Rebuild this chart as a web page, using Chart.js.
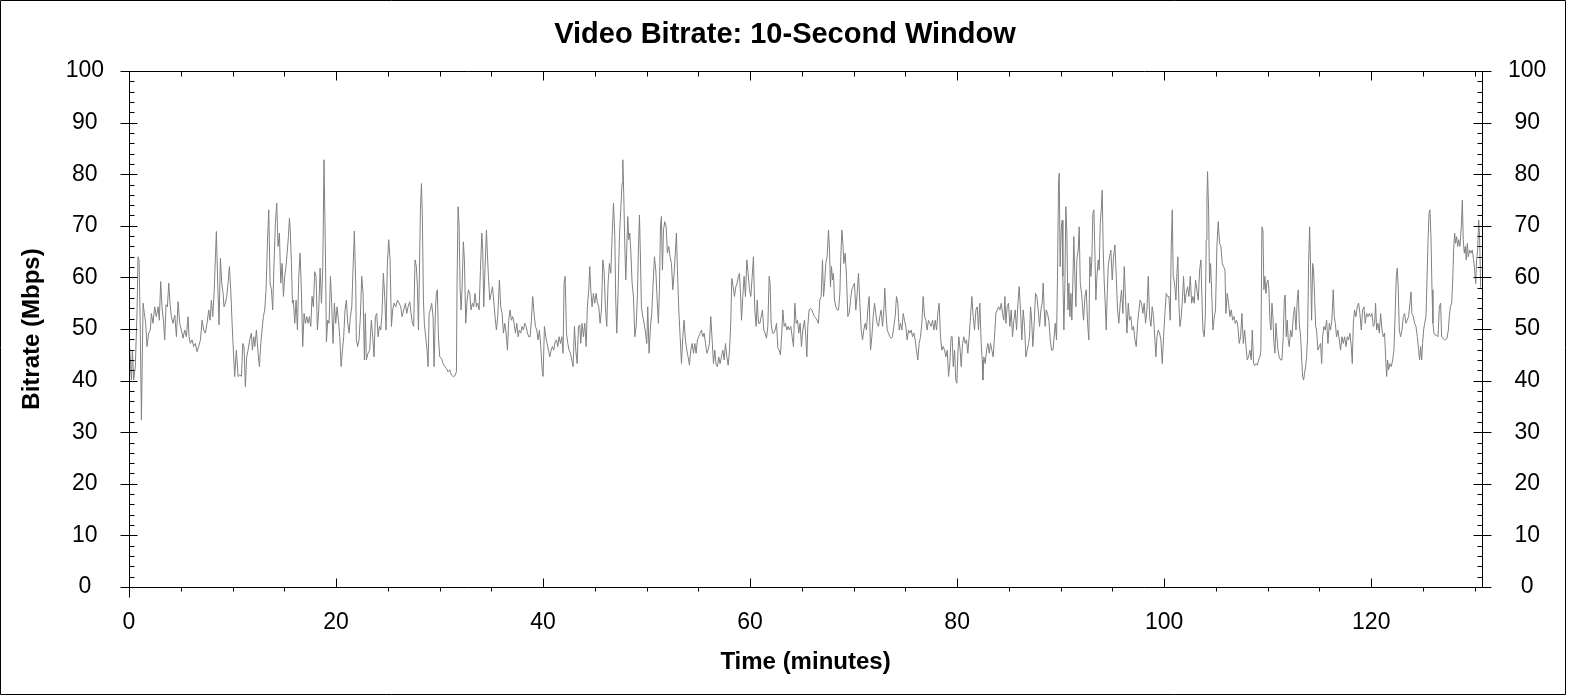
<!DOCTYPE html>
<html>
<head>
<meta charset="utf-8">
<title>Video Bitrate: 10-Second Window</title>
<script src="https://cdn.jsdelivr.net/npm/chart.js@4/dist/chart.umd.min.js"></script>
<style>
  html, body { margin: 0; padding: 0; background: #fff; }
  canvas { display: block; }
</style>
</head>
<body>
<canvas id="bitrate" width="1570" height="695"></canvas>
<script>
// 目盛り
const xTicks = [0, 20, 40, 60, 80, 100, 120];
const yTicks = [0, 10, 20, 30, 40, 50, 60, 70, 80, 90, 100];
const xMax = 130.7;

// 時間（分）
const times = [
  0.02, 0.23, 0.33, 0.45, 0.61, 0.78, 0.87, 0.97, 1.07, 1.20, 1.36, 1.52, 1.61, 1.74, 1.90, 2.06, 2.16, 2.32, 2.48, 2.64,
  2.81, 2.93, 3.06, 3.19, 3.35, 3.45, 3.58, 3.71, 3.84, 3.96, 4.09, 4.25, 4.42, 4.58, 4.74, 4.90, 5.06, 5.22, 5.38, 5.54,
  5.70, 5.80, 5.93, 6.09, 6.25, 6.41, 6.57, 6.73, 6.90, 7.06, 7.22, 7.38, 7.54, 7.70, 7.83, 7.96, 8.09, 8.22, 8.35, 8.44,
  8.57, 8.70, 8.83, 8.96, 9.09, 9.18, 9.31, 9.44, 9.57, 9.70, 9.83, 9.96, 10.08, 10.21, 10.37, 10.54, 10.70, 10.86, 10.99, 11.11,
  11.24, 11.37, 11.50, 11.66, 11.82, 11.92, 12.05, 12.15, 12.31, 12.47, 12.60, 12.73, 12.85, 12.98, 13.11, 13.24, 13.37, 13.50, 13.63, 13.76,
  13.88, 14.01, 14.14, 14.27, 14.40, 14.53, 14.66, 14.79, 14.92, 15.04, 15.17, 15.30, 15.40, 15.50, 15.59, 15.69, 15.79, 15.88, 16.01, 16.14,
  16.27, 16.40, 16.53, 16.65, 16.78, 16.91, 17.04, 17.17, 17.30, 17.43, 17.56, 17.68, 17.81, 17.94, 18.07, 18.20, 18.33, 18.46, 18.59, 18.72,
  18.84, 18.97, 19.07, 19.20, 19.33, 19.46, 19.58, 19.71, 19.84, 19.97, 20.10, 20.23, 20.36, 20.49, 20.62, 20.74, 20.87, 21.00, 21.13, 21.26,
  21.39, 21.52, 21.65, 21.77, 21.90, 21.96, 22.09, 22.22, 22.35, 22.48, 22.61, 22.74, 22.83, 22.93, 23.09, 23.25, 23.41, 23.54, 23.67, 23.80,
  23.93, 24.06, 24.19, 24.32, 24.44, 24.57, 24.70, 24.83, 24.96, 25.09, 25.22, 25.35, 25.47, 25.60, 25.77, 25.93, 26.09, 26.25, 26.38, 26.54,
  26.70, 26.83, 26.96, 27.12, 27.25, 27.38, 27.50, 27.63, 27.76, 27.86, 27.96, 28.05, 28.15, 28.25, 28.34, 28.44, 28.53, 28.66, 28.79, 28.89,
  28.99, 29.11, 29.24, 29.37, 29.47, 29.60, 29.69, 29.79, 29.89, 30.02, 30.18, 30.34, 30.50, 30.66, 30.82, 30.98, 31.14, 31.31, 31.47, 31.63,
  31.69, 31.79, 31.89, 31.98, 32.08, 32.17, 32.30, 32.40, 32.53, 32.66, 32.79, 32.92, 33.04, 33.17, 33.30, 33.43, 33.56, 33.69, 33.82, 33.95,
  34.08, 34.17, 34.27, 34.40, 34.53, 34.62, 34.72, 34.85, 34.98, 35.11, 35.23, 35.36, 35.49, 35.62, 35.78, 35.91, 36.04, 36.17, 36.30, 36.43,
  36.56, 36.68, 36.81, 36.94, 37.07, 37.20, 37.33, 37.46, 37.59, 37.71, 37.84, 37.97, 38.10, 38.23, 38.36, 38.49, 38.62, 38.75, 38.87, 39.00,
  39.13, 39.26, 39.39, 39.52, 39.65, 39.78, 39.91, 40.00, 40.13, 40.26, 40.39, 40.52, 40.65, 40.78, 40.90, 41.03, 41.16, 41.29, 41.42, 41.55,
  41.68, 41.81, 41.93, 42.03, 42.13, 42.26, 42.39, 42.51, 42.64, 42.77, 42.90, 43.03, 43.16, 43.29, 43.42, 43.54, 43.64, 43.77, 43.90, 44.03,
  44.16, 44.28, 44.41, 44.51, 44.61, 44.73, 44.86, 44.99, 45.12, 45.25, 45.38, 45.51, 45.64, 45.77, 45.89, 46.02, 46.15, 46.28, 46.41, 46.54,
  46.67, 46.80, 46.93, 47.02, 47.12, 47.25, 47.38, 47.50, 47.63, 47.70, 47.79, 47.89, 47.99, 48.08, 48.18, 48.28, 48.37, 48.47, 48.60, 48.73,
  48.86, 48.99, 49.12, 49.21, 49.31, 49.41, 49.50, 49.63, 49.76, 49.89, 50.02, 50.11, 50.24, 50.37, 50.50, 50.63, 50.76, 50.89, 51.02, 51.14,
  51.24, 51.34, 51.43, 51.53, 51.63, 51.76, 51.89, 52.01, 52.14, 52.27, 52.40, 52.53, 52.66, 52.79, 52.88, 52.98, 53.11, 53.24, 53.37, 53.50,
  53.62, 53.75, 53.88, 54.01, 54.14, 54.27, 54.40, 54.53, 54.66, 54.78, 54.91, 55.04, 55.17, 55.30, 55.43, 55.56, 55.69, 55.82, 55.94, 56.07,
  56.20, 56.33, 56.46, 56.59, 56.72, 56.85, 56.97, 57.10, 57.23, 57.36, 57.49, 57.62, 57.75, 57.88, 58.01, 58.13, 58.23, 58.36, 58.49, 58.62,
  58.75, 58.87, 58.97, 59.07, 59.17, 59.29, 59.42, 59.55, 59.68, 59.81, 59.94, 60.07, 60.20, 60.32, 60.45, 60.58, 60.68, 60.81, 60.94, 61.07,
  61.19, 61.32, 61.45, 61.58, 61.71, 61.84, 61.93, 62.03, 62.16, 62.29, 62.42, 62.55, 62.68, 62.80, 62.93, 63.06, 63.16, 63.29, 63.42, 63.55,
  63.67, 63.80, 63.93, 64.06, 64.19, 64.32, 64.45, 64.58, 64.70, 64.83, 64.96, 65.09, 65.25, 65.38, 65.48, 65.57, 65.70, 65.83, 65.96, 66.09,
  66.22, 66.35, 66.47, 66.60, 66.73, 66.86, 66.99, 67.09, 67.18, 67.31, 67.44, 67.57, 67.67, 67.76, 67.86, 67.96, 68.05, 68.15, 68.28, 68.41,
  68.54, 68.67, 68.76, 68.86, 68.96, 69.05, 69.18, 69.31, 69.44, 69.57, 69.70, 69.82, 69.95, 70.08, 70.21, 70.34, 70.47, 70.60, 70.73, 70.86,
  70.98, 71.11, 71.24, 71.37, 71.50, 71.63, 71.76, 71.89, 72.02, 72.14, 72.27, 72.40, 72.53, 72.66, 72.79, 72.92, 73.01, 73.11, 73.24, 73.37,
  73.50, 73.63, 73.75, 73.88, 74.01, 74.14, 74.27, 74.40, 74.53, 74.66, 74.79, 74.91, 75.04, 75.17, 75.30, 75.43, 75.56, 75.69, 75.82, 75.94,
  76.07, 76.20, 76.33, 76.46, 76.59, 76.72, 76.85, 76.98, 77.10, 77.23, 77.36, 77.49, 77.62, 77.75, 77.88, 78.01, 78.13, 78.26, 78.39, 78.52,
  78.65, 78.78, 78.91, 79.04, 79.17, 79.29, 79.42, 79.52, 79.62, 79.75, 79.87, 79.97, 80.07, 80.16, 80.29, 80.39, 80.52, 80.65, 80.78, 80.91,
  81.03, 81.16, 81.29, 81.42, 81.55, 81.68, 81.81, 81.94, 82.06, 82.19, 82.32, 82.42, 82.48, 82.58, 82.71, 82.84, 82.97, 83.10, 83.22, 83.35,
  83.48, 83.61, 83.74, 83.87, 84.00, 84.13, 84.26, 84.38, 84.51, 84.61, 84.71, 84.83, 84.96, 85.09, 85.22, 85.35, 85.48, 85.61, 85.74, 85.87,
  85.99, 86.12, 86.25, 86.38, 86.51, 86.64, 86.77, 86.90, 86.99, 87.09, 87.18, 87.31, 87.44, 87.57, 87.70, 87.83, 87.96, 88.09, 88.21, 88.31,
  88.41, 88.50, 88.60, 88.73, 88.86, 88.99, 89.12, 89.25, 89.37, 89.47, 89.60, 89.70, 89.79, 89.86, 89.95, 90.05, 90.15, 90.21, 90.31, 90.41,
  90.50, 90.60, 90.70, 90.79, 90.89, 90.99, 91.08, 91.18, 91.27, 91.37, 91.47, 91.56, 91.69, 91.79, 91.89, 92.02, 92.11, 92.21, 92.34, 92.47,
  92.60, 92.72, 92.82, 92.92, 93.01, 93.11, 93.21, 93.30, 93.40, 93.50, 93.63, 93.72, 93.82, 93.92, 94.01, 94.11, 94.21, 94.30, 94.40, 94.50,
  94.59, 94.72, 94.85, 94.98, 95.11, 95.24, 95.37, 95.49, 95.62, 95.75, 95.88, 96.01, 96.14, 96.27, 96.40, 96.53, 96.65, 96.78, 96.91, 97.04,
  97.17, 97.30, 97.43, 97.56, 97.68, 97.81, 97.94, 98.07, 98.20, 98.33, 98.46, 98.59, 98.72, 98.84, 98.97, 99.10, 99.20, 99.30, 99.42, 99.55,
  99.68, 99.81, 99.94, 100.07, 100.20, 100.33, 100.46, 100.58, 100.68, 100.78, 100.87, 101.00, 101.13, 101.23, 101.32, 101.42, 101.52, 101.65, 101.78, 101.87,
  102.00, 102.13, 102.26, 102.39, 102.52, 102.65, 102.77, 102.90, 103.03, 103.16, 103.29, 103.42, 103.55, 103.64, 103.74, 103.87, 103.97, 104.06, 104.13, 104.19,
  104.29, 104.38, 104.48, 104.58, 104.71, 104.84, 104.96, 105.09, 105.22, 105.35, 105.48, 105.61, 105.74, 105.87, 105.96, 106.09, 106.22, 106.35, 106.48, 106.61,
  106.74, 106.86, 106.99, 107.12, 107.25, 107.38, 107.51, 107.64, 107.77, 107.90, 108.02, 108.15, 108.28, 108.41, 108.51, 108.64, 108.73, 108.86, 108.99, 109.12,
  109.25, 109.34, 109.44, 109.54, 109.63, 109.73, 109.83, 109.92, 110.02, 110.12, 110.21, 110.31, 110.41, 110.50, 110.60, 110.70, 110.79, 110.89, 110.99, 111.11,
  111.24, 111.37, 111.50, 111.60, 111.69, 111.79, 111.89, 111.98, 112.08, 112.21, 112.34, 112.47, 112.60, 112.73, 112.85, 112.95, 113.05, 113.18, 113.27, 113.37,
  113.47, 113.56, 113.66, 113.76, 113.85, 113.95, 114.05, 114.14, 114.24, 114.34, 114.43, 114.53, 114.63, 114.72, 114.85, 114.98, 115.11, 115.21, 115.30, 115.43,
  115.56, 115.69, 115.82, 115.95, 116.07, 116.20, 116.33, 116.43, 116.53, 116.65, 116.78, 116.91, 117.04, 117.17, 117.30, 117.43, 117.56, 117.69, 117.81, 117.94,
  118.07, 118.17, 118.27, 118.39, 118.52, 118.65, 118.78, 118.91, 119.04, 119.17, 119.30, 119.42, 119.55, 119.68, 119.81, 119.94, 120.07, 120.20, 120.33, 120.42,
  120.52, 120.65, 120.78, 120.91, 121.04, 121.16, 121.29, 121.39, 121.49, 121.58, 121.68, 121.81, 121.94, 122.07, 122.19, 122.32, 122.42, 122.52, 122.61, 122.71,
  122.84, 122.97, 123.10, 123.23, 123.35, 123.48, 123.61, 123.74, 123.84, 123.93, 124.06, 124.19, 124.32, 124.45, 124.58, 124.67, 124.77, 124.87, 124.96, 125.06,
  125.16, 125.29, 125.38, 125.48, 125.58, 125.67, 125.77, 125.87, 125.96, 126.06, 126.19, 126.32, 126.45, 126.58, 126.70, 126.80, 126.93, 127.06, 127.19, 127.32,
  127.45, 127.54, 127.64, 127.77, 127.86, 127.96, 128.06, 128.15, 128.25, 128.35, 128.44, 128.57, 128.70, 128.80, 128.89, 128.99, 129.09, 129.18, 129.28, 129.38,
  129.51, 129.64, 129.76, 129.89, 129.99, 130.09, 130.18, 130.28, 130.38, 130.47, 130.57
];

// ビットレート（Mbps）
const rates = [
  48.2, 40.1, 45.9, 40.1, 42.7, 53.7, 64.0, 63.4, 52.4, 32.4, 55.0, 52.4, 51.1, 46.6, 49.2, 49.8, 53.0, 51.1, 54.3, 52.4,
  54.3, 51.7, 59.2, 54.3, 51.1, 47.9, 54.7, 54.3, 58.9, 55.0, 52.4, 51.1, 52.7, 48.5, 55.3, 51.1, 49.8, 48.2, 49.8, 48.5,
  52.4, 48.5, 47.2, 47.9, 46.6, 47.2, 45.6, 46.6, 47.9, 51.7, 49.8, 49.2, 51.1, 53.7, 51.7, 55.6, 52.4, 56.9, 64.0, 68.9,
  58.9, 50.8, 63.7, 58.9, 56.9, 54.3, 55.0, 56.3, 58.9, 62.1, 57.6, 51.1, 45.9, 40.8, 45.9, 40.8, 41.1, 40.8, 47.2, 46.6,
  38.8, 44.6, 45.9, 47.9, 49.2, 45.9, 48.5, 46.6, 49.8, 45.3, 42.7, 47.2, 49.8, 52.4, 53.7, 57.6, 66.6, 73.1, 58.9, 57.6,
  53.7, 62.7, 70.5, 74.4, 66.0, 68.6, 58.9, 62.7, 56.3, 60.2, 62.1, 65.3, 67.9, 71.5, 68.6, 62.7, 55.0, 55.6, 51.1, 55.6,
  49.8, 60.2, 64.7, 57.6, 46.6, 53.0, 51.1, 52.4, 51.1, 52.4, 50.5, 56.3, 54.3, 61.1, 60.2, 49.8, 53.7, 61.8, 55.0, 62.1,
  82.8, 65.3, 47.5, 51.7, 51.1, 60.2, 55.0, 47.2, 55.0, 51.1, 54.3, 51.7, 48.5, 42.7, 45.9, 48.5, 53.7, 55.6, 51.1, 49.2,
  52.4, 54.3, 62.1, 69.0, 58.9, 47.9, 46.6, 47.9, 52.4, 60.2, 56.9, 44.0, 53.0, 44.0, 45.3, 45.9, 51.7, 48.5, 44.6, 52.4,
  53.0, 48.5, 50.5, 49.8, 53.0, 60.8, 56.3, 49.8, 62.7, 67.3, 63.4, 50.5, 53.7, 55.0, 54.3, 55.6, 55.0, 54.3, 52.4, 53.7,
  55.0, 53.0, 54.3, 55.3, 53.0, 51.1, 50.5, 63.4, 62.1, 58.2, 49.8, 60.2, 73.1, 78.2, 71.8, 55.6, 51.1, 48.5, 45.9, 42.7,
  53.0, 53.7, 55.0, 52.4, 42.7, 53.7, 56.9, 57.6, 48.5, 44.6, 44.3, 43.3, 42.7, 42.4, 41.7, 42.1, 41.1, 40.8, 40.9, 41.7,
  58.9, 73.7, 69.8, 58.2, 53.7, 57.6, 66.9, 63.4, 51.1, 55.6, 57.6, 56.9, 53.7, 55.0, 54.3, 56.9, 54.3, 55.0, 53.7, 61.4,
  68.6, 65.3, 54.3, 62.1, 69.2, 64.7, 60.2, 55.6, 56.9, 58.2, 55.6, 52.4, 49.8, 52.4, 59.5, 54.3, 53.0, 49.2, 51.1, 49.2,
  45.9, 51.7, 53.7, 51.7, 52.4, 51.1, 49.2, 51.1, 48.5, 49.8, 49.2, 50.5, 49.8, 51.1, 50.5, 49.2, 48.5, 48.5, 51.7, 56.3,
  53.0, 50.5, 49.8, 47.9, 49.8, 46.6, 42.1, 40.8, 50.5, 48.5, 47.2, 45.9, 44.6, 45.9, 46.6, 45.9, 47.5, 47.9, 46.6, 48.5,
  47.2, 48.5, 45.3, 58.9, 60.2, 49.2, 47.2, 45.9, 45.3, 44.0, 42.7, 50.5, 45.9, 43.3, 50.5, 50.8, 47.2, 51.1, 48.5, 51.1,
  46.6, 54.3, 57.6, 62.1, 57.6, 54.3, 56.9, 55.0, 56.9, 55.0, 54.3, 51.1, 53.7, 63.4, 61.4, 54.3, 50.5, 58.9, 62.7, 60.8,
  67.9, 74.4, 67.9, 55.6, 49.2, 57.6, 67.9, 73.1, 78.2, 82.8, 76.3, 66.6, 59.5, 65.3, 71.8, 67.3, 68.6, 65.3, 58.9, 56.3,
  48.5, 50.5, 56.9, 65.3, 72.1, 63.4, 54.3, 52.4, 51.1, 49.2, 47.2, 54.3, 45.3, 50.5, 53.0, 58.9, 64.0, 61.4, 55.6, 51.1,
  57.6, 69.8, 71.8, 61.4, 69.2, 70.8, 69.8, 64.7, 66.0, 64.0, 62.7, 57.6, 60.8, 65.3, 68.6, 61.4, 53.7, 48.5, 43.3, 48.5,
  51.7, 47.9, 45.9, 44.6, 43.0, 45.9, 47.2, 45.3, 47.2, 45.3, 47.9, 48.5, 49.2, 49.8, 48.5, 49.2, 47.2, 45.3, 45.9, 47.2,
  52.4, 47.9, 43.3, 45.9, 43.0, 42.7, 44.6, 43.3, 44.6, 45.9, 44.0, 47.2, 44.6, 43.0, 45.9, 51.1, 59.8, 58.2, 56.3, 58.2,
  58.9, 60.2, 60.8, 56.9, 51.7, 56.3, 60.2, 56.3, 63.4, 60.8, 57.6, 56.3, 60.2, 64.0, 53.7, 50.5, 55.6, 51.1, 51.1, 52.4,
  53.7, 49.8, 49.2, 48.2, 50.5, 60.2, 58.9, 51.1, 49.2, 49.2, 49.8, 51.1, 46.3, 45.9, 45.0, 49.2, 53.7, 50.5, 51.1, 49.8,
  50.5, 49.8, 50.5, 48.5, 46.6, 55.0, 51.1, 51.7, 49.2, 51.1, 46.6, 49.8, 51.7, 48.5, 44.6, 50.5, 53.7, 54.0, 53.7, 53.0,
  52.4, 52.1, 51.7, 51.1, 55.6, 56.3, 63.4, 56.3, 58.2, 62.7, 64.0, 69.2, 65.3, 58.2, 62.1, 59.5, 60.8, 55.6, 54.3, 53.7,
  53.7, 56.9, 64.0, 69.2, 66.6, 62.7, 64.7, 60.2, 52.4, 53.0, 55.6, 57.6, 58.2, 58.9, 53.7, 56.9, 60.8, 55.0, 49.8, 47.9,
  49.8, 51.1, 49.8, 53.7, 56.3, 45.9, 48.5, 52.4, 55.0, 53.0, 51.1, 50.5, 52.4, 53.7, 50.5, 53.7, 57.9, 53.7, 49.8, 49.2,
  48.5, 48.2, 48.5, 50.5, 52.4, 56.3, 55.0, 49.8, 51.1, 49.8, 53.0, 51.7, 50.5, 47.9, 49.8, 49.2, 49.8, 48.5, 49.2, 47.9,
  45.9, 44.0, 47.2, 48.5, 51.1, 56.3, 52.4, 51.7, 49.8, 51.7, 51.1, 50.5, 51.7, 49.8, 51.7, 49.8, 53.0, 55.0, 48.5, 45.9,
  46.6, 45.9, 44.6, 45.9, 40.8, 43.3, 48.5, 48.5, 42.7, 45.9, 40.1, 39.5, 45.3, 48.5, 45.9, 42.7, 47.2, 48.5, 47.2, 47.9,
  45.3, 48.5, 52.4, 56.3, 52.4, 49.8, 53.7, 54.3, 49.8, 55.0, 47.2, 44.0, 40.1, 44.6, 43.3, 45.9, 47.2, 45.3, 47.2, 45.9,
  44.6, 48.5, 53.0, 53.7, 54.3, 53.7, 55.0, 53.0, 51.7, 56.3, 51.1, 54.3, 55.0, 50.5, 53.7, 48.5, 51.7, 53.7, 49.8, 55.0,
  58.2, 53.7, 47.9, 53.7, 50.5, 44.6, 45.9, 47.2, 48.6, 54.3, 52.4, 46.6, 51.1, 56.9, 56.3, 53.7, 50.5, 53.7, 55.0, 58.9,
  53.7, 50.5, 53.7, 53.0, 51.7, 47.9, 45.9, 45.9, 48.5, 51.1, 47.9, 61.4, 78.2, 80.2, 62.1, 69.2, 71.1, 60.2, 49.8, 58.9,
  73.7, 68.6, 53.7, 58.9, 52.4, 56.9, 51.7, 59.5, 67.9, 60.2, 54.3, 63.4, 65.3, 69.8, 58.9, 56.9, 54.3, 51.7, 56.3, 57.6,
  51.1, 47.9, 64.0, 60.2, 63.4, 72.4, 73.1, 65.3, 55.6, 60.2, 63.4, 61.4, 70.5, 73.1, 76.9, 65.3, 58.9, 55.0, 49.8, 56.9,
  62.1, 64.0, 65.3, 59.5, 64.0, 66.3, 60.2, 53.7, 51.1, 55.0, 57.6, 53.0, 62.1, 55.6, 49.2, 55.0, 51.7, 52.4, 49.8, 50.5,
  47.9, 46.6, 51.1, 53.7, 55.6, 55.0, 53.0, 55.0, 51.1, 53.7, 60.2, 52.4, 50.5, 54.3, 52.4, 47.9, 44.6, 48.5, 49.8, 49.2,
  47.9, 43.3, 48.5, 53.0, 56.9, 56.3, 56.3, 51.7, 66.0, 73.1, 60.2, 58.9, 55.6, 60.8, 64.0, 55.0, 50.5, 52.4, 56.3, 60.2,
  55.0, 56.9, 58.2, 56.3, 60.2, 55.0, 56.3, 55.0, 59.5, 57.6, 55.6, 61.4, 63.4, 56.3, 49.8, 48.5, 52.4, 67.3, 75.0, 80.5,
  73.1, 58.9, 62.7, 57.6, 49.8, 52.4, 53.7, 66.0, 70.8, 66.6, 66.0, 62.7, 62.1, 61.4, 53.0, 56.9, 55.0, 52.4, 53.7, 51.7,
  52.4, 51.1, 51.7, 50.5, 47.2, 48.5, 53.0, 47.2, 49.8, 46.6, 44.0, 44.6, 45.9, 44.0, 49.8, 43.3, 42.9, 43.3, 43.0, 44.0,
  44.6, 45.9, 69.8, 69.2, 57.6, 60.2, 56.9, 58.9, 59.5, 57.6, 51.7, 49.8, 55.0, 52.4, 47.2, 45.3, 51.1, 48.5, 45.9, 44.6,
  44.0, 44.0, 48.5, 55.6, 56.6, 48.5, 51.7, 47.9, 46.6, 49.8, 48.5, 52.4, 54.3, 49.8, 55.6, 57.6, 51.1, 48.5, 44.6, 40.8,
  40.1, 41.5, 42.7, 44.6, 48.5, 62.7, 69.8, 62.1, 51.7, 62.7, 61.4, 56.3, 50.5, 49.8, 45.9, 46.6, 47.2, 43.3, 48.5, 50.5,
  49.8, 51.7, 47.2, 51.1, 49.8, 51.7, 57.6, 52.4, 51.1, 48.5, 49.8, 47.9, 45.9, 48.5, 47.2, 48.5, 46.6, 48.5, 47.9, 49.2,
  46.6, 43.3, 51.1, 53.7, 52.4, 54.3, 55.0, 53.0, 49.8, 53.7, 54.3, 51.1, 53.0, 52.4, 53.0, 52.4, 53.0, 50.5, 51.1, 55.0,
  49.8, 51.1, 49.2, 53.0, 49.8, 48.5, 49.2, 44.6, 40.8, 44.0, 42.1, 43.3, 42.7, 44.0, 45.9, 53.7, 60.2, 61.8, 57.6, 49.8,
  48.5, 49.8, 52.4, 53.0, 51.1, 51.7, 52.4, 55.0, 57.2, 53.0, 52.4, 51.1, 50.5, 48.5, 45.9, 44.0, 46.6, 44.0, 47.2, 49.8,
  51.1, 52.4, 58.9, 66.6, 72.4, 73.1, 67.9, 57.6, 51.1, 49.2, 48.8, 48.8, 48.5, 54.3, 55.0, 48.5, 48.2, 47.9, 47.9, 48.2,
  49.8, 52.4, 54.3, 55.0, 58.9, 65.3, 68.6, 66.6, 67.9, 66.0, 67.3, 66.0, 69.8, 75.0, 67.3, 64.7, 66.0, 63.4, 66.6, 64.0,
  65.3, 64.7, 65.3, 63.4, 61.4, 58.8, 63.4, 65.3, 71.1, 67.9, 58.0
];

const FONT = '"Liberation Sans", Arial, sans-serif';

// 軸と目盛りを手描きする
const axisFrame = {
  id: 'axisFrame',
  afterDraw(chart) {
    const ctx = chart.ctx;
    const a = chart.chartArea;
    const x = chart.scales.x;
    const y = chart.scales.y;
    const L = a.left + 0.5, R = a.right + 0.5, T = a.top + 0.5, B = a.bottom + 0.5;
    ctx.save();
    ctx.strokeStyle = '#000';
    ctx.lineWidth = 1;
    ctx.beginPath();
    // 外枠
    ctx.rect(0.5, 0.5, 1565, 694);
    // プロット枠
    ctx.rect(L, T, a.right - a.left, a.bottom - a.top);
    // 縦軸の目盛り
    for (let v = 0; v <= 100; v += 2) {
      const py = Math.round(y.getPixelForValue(v)) + 0.5;
      if (v % 10 === 0) {
        ctx.moveTo(L - 9, py); ctx.lineTo(L + 8, py);
        ctx.moveTo(R - 9, py); ctx.lineTo(R + 9, py);
      } else {
        ctx.moveTo(L, py); ctx.lineTo(L + 5, py);
        ctx.moveTo(R - 5, py); ctx.lineTo(R, py);
      }
    }
    // 横軸の目盛り
    ctx.moveTo(L, B); ctx.lineTo(L, B + 10);
    for (let m = 5; m < xMax; m += 5) {
      const px = Math.round(x.getPixelForValue(m)) + 0.5;
      if (m % 20 === 0) {
        ctx.moveTo(px, B); ctx.lineTo(px, B - 9);
        ctx.moveTo(px, T); ctx.lineTo(px, T + 9);
      } else {
        ctx.moveTo(px, B); ctx.lineTo(px, B + 4);
        ctx.moveTo(px, T); ctx.lineTo(px, T + 5);
      }
    }
    ctx.stroke();
    ctx.restore();
  }
};

const yAxis = (pos, width, pad) => ({
  type: 'linear',
  position: pos,
  min: 0,
  max: 100,
  afterBuildTicks: s => { s.ticks = yTicks.map(v => ({ value: v })); },
  afterFit: s => { s.width = width; },
  grid: { display: false, drawTicks: false },
  border: { display: false },
  ticks: { color: '#000', padding: pad, crossAlign: 'center', font: { family: FONT, size: 23 } },
  title: pos === 'left'
    ? { display: true, text: 'Bitrate (Mbps)', color: '#000', padding: { top: 18 }, font: { family: FONT, size: 24, weight: 'bold' } }
    : { display: false }
});

const ctx = document.getElementById('bitrate');

const bitrateChart = new Chart(ctx, {
  type: 'line',
  data: {
    datasets: [{
      data: times.map((t, i) => ({ x: t, y: rates[i] })),
      borderColor: '#808080',
      borderWidth: 1,
      pointRadius: 0,
      tension: 0,
      fill: false
    }]
  },
  options: {
    responsive: false,
    animation: false,
    devicePixelRatio: 1,
    layout: { padding: 0 },
    plugins: {
      legend: { display: false },
      tooltip: { enabled: false },
      title: {
        display: true,
        text: 'Video Bitrate: 10-Second Window',
        color: '#000',
        padding: { top: 18, bottom: 18.2 },
        font: { family: FONT, size: 29, weight: 'bold' }
      }
    },
    scales: {
      x: {
        type: 'linear',
        position: 'bottom',
        min: 0,
        max: xMax,
        afterBuildTicks: s => { s.ticks = xTicks.map(v => ({ value: v })); },
        afterFit: s => { s.height = 108; },
        grid: { display: false, drawTicks: false },
        border: { display: false },
        ticks: { color: '#000', padding: 22, maxRotation: 0, font: { family: FONT, size: 23 } },
        title: { display: true, text: 'Time (minutes)', color: '#000', padding: { bottom: 18 }, font: { family: FONT, size: 24, weight: 'bold' } }
      },
      y: yAxis('left', 129, 25),
      y2: yAxis('right', 88, 26)
    }
  },
  plugins: [axisFrame]
});
</script>
</body>
</html>
